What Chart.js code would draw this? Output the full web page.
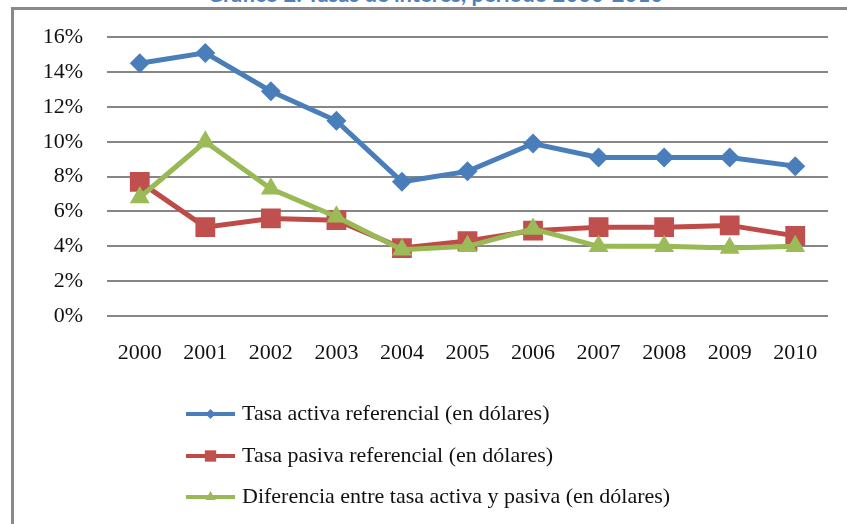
<!DOCTYPE html>
<html>
<head>
<meta charset="utf-8">
<script src="https://cdn.jsdelivr.net/npm/chart.js@4/dist/chart.umd.min.js"></script>
<style>
  html, body { margin: 0; padding: 0; background: #fff; overflow: hidden; }
  .wrap { position: relative; width: 847px; height: 524px; }
  .frame {
    position: absolute; left: 11px; top: 7px; width: 900px; height: 600px;
    border-top: 3px solid #898989; border-left: 3px solid #898989;
  }
  .title {
    position: absolute; left: 0; top: -17px; width: 870px; text-align: center;
    font: bold 22px Lato, "Open Sans", sans-serif; color: #4F81BD; line-height: 22px;
  }
  canvas { position: absolute; left: 0; top: 0; }
</style>
</head>
<body>
<div class="wrap">
  <div class="title">Gráfico 2: Tasas de interés, período 2000-2010</div>
  <div class="frame"></div>
  <canvas id="chart" width="847" height="524"></canvas>
</div>
<script>
// Datos (porcentajes)
const years = ['2000', '2001', '2002', '2003', '2004', '2005', '2006', '2007', '2008', '2009', '2010'];
const tasaActiva = [14.5, 15.1, 12.9, 11.2, 7.7, 8.3, 9.9, 9.1, 9.1, 9.1, 8.6];
const tasaPasiva = [7.7, 5.1, 5.6, 5.5, 3.9, 4.3, 4.9, 5.1, 5.1, 5.2, 4.6];
const diferencia = [6.8, 10.0, 7.3, 5.7, 3.8, 4.0, 5.0, 4.0, 4.0, 3.9, 4.0];
const seriesNames = [
    'Tasa activa referencial (en dólares)',
    'Tasa pasiva referencial (en dólares)',
    'Diferencia entre tasa activa y pasiva (en dólares)'
];

const serifFont = '"Liberation Serif", "DejaVu Serif", serif';

// Leyenda vertical como en el original
const sideLegend = {
    id: 'sideLegend',
    afterDraw: function(chart) {
        const ctx = chart.ctx;
        const area = chart.chartArea;
        const x0 = area.left + 79;
        const x1 = x0 + 49;
        const rows = [area.bottom + 98, area.bottom + 140, area.bottom + 181];
        const legendRadius = [5, 8, 6];
        ctx.save();
        chart.data.datasets.forEach(function(ds, i) {
            const y = rows[i];
            ctx.strokeStyle = ds.borderColor;
            ctx.lineWidth = 4;
            ctx.beginPath();
            ctx.moveTo(x0, y);
            ctx.lineTo(x1, y);
            ctx.stroke();
            ctx.fillStyle = ds.backgroundColor;
            Chart.helpers.drawPoint(ctx, {
                pointStyle: ds.pointStyle,
                radius: legendRadius[i],
                borderWidth: 0
            }, (x0 + x1) / 2, y);
            ctx.fillStyle = '#111';
            ctx.font = '22px ' + serifFont;
            ctx.textBaseline = 'middle';
            ctx.textAlign = 'left';
            ctx.fillText(ds.label, x1 + 7, y);
        });
        ctx.restore();
    }
};

const ctx = document.getElementById('chart');
new Chart(ctx, {
    type: 'line',
    data: {
        labels: years,
        datasets: [
            {
                label: seriesNames[0],
                data: tasaActiva,
                borderColor: '#4A7EBB',
                backgroundColor: '#4A7EBB',
                borderWidth: 5,
                pointStyle: 'rectRot',
                pointRadius: 10,
                pointBorderWidth: 0,
                order: 2
            },
            {
                label: seriesNames[1],
                data: tasaPasiva,
                borderColor: '#BE4B48',
                backgroundColor: '#C0504D',
                borderWidth: 5,
                pointStyle: 'rect',
                pointRadius: 14,
                pointBorderWidth: 0,
                order: 1
            },
            {
                label: seriesNames[2],
                data: diferencia,
                borderColor: '#98B954',
                backgroundColor: '#9BBB59',
                borderWidth: 5,
                pointStyle: 'triangle',
                pointRadius: 11.5,
                pointBorderWidth: 0,
                order: 0
            }
        ]
    },
    options: {
        responsive: false,
        animation: false,
        layout: {
            padding: { top: 37, right: 19, left: 0, bottom: 0 }
        },
        plugins: {
            legend: { display: false },
            tooltip: { enabled: false }
        },
        scales: {
            x: {
                offset: true,
                border: { display: false },
                grid: { display: false, drawTicks: false },
                ticks: {
                    color: '#111',
                    padding: 24,
                    font: { family: serifFont, size: 22 }
                },
                afterFit: function(scale) { scale.height = 208; }
            },
            y: {
                min: 0,
                max: 16,
                border: { display: false },
                grid: { color: '#868686', lineWidth: 2, drawTicks: false },
                ticks: {
                    stepSize: 2,
                    color: '#111',
                    padding: 24,
                    font: { family: serifFont, size: 22 },
                    callback: function(value) { return value + '%'; }
                },
                afterFit: function(scale) { scale.width = 107; }
            }
        }
    },
    plugins: [sideLegend]
});
</script>
</body>
</html>
